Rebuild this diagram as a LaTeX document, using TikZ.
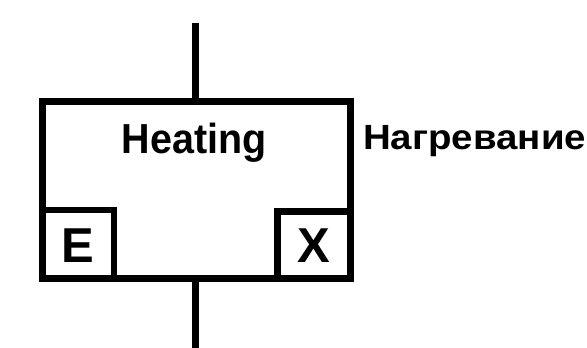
\documentclass[tikz,border=0pt]{standalone}
\usepackage{fontspec}
\setmainfont{Liberation Sans}
\begin{document}
\begin{tikzpicture}[x=1pt,y=1pt,
  outerbox/.style={draw=black,line width=7pt,inner sep=0pt,outer sep=0pt,rectangle},
  cornerbox/.style={draw=black,line width=6.5pt,inner sep=0pt,outer sep=0pt,rectangle},
  conn/.style={draw=black,line width=7.5pt},
  boxlabel/.style={inner sep=0pt,font=\fontsize{49}{55}\selectfont\bfseries},
  title/.style={inner sep=0pt,font=\fontsize{42}{48}\selectfont\bfseries,xscale=0.94},
  sidelabel/.style={inner sep=0pt,font=\fontsize{35}{40}\selectfont\bfseries}]
\clip (0,0) rectangle (587,348);
\fill[white] (0,0) rectangle (587,348);
\node[outerbox,minimum width=307.2pt,minimum height=177pt] (heat) at (196.4,157.5) {};
\node[cornerbox,minimum width=71.2pt,minimum height=69pt,anchor=south west] (ebox) at (heat.south west) {};
\node[cornerbox,minimum width=72.5pt,minimum height=67.5pt,anchor=south east] (xbox) at (heat.south east) {};
\node[boxlabel,anchor=base] (elab) at (78.3,85) {E};
\node[boxlabel,anchor=base] (xlab) at (314,85) {X};
\node[title,anchor=base] (htitle) at (194.2,194.7) {Heating};
\node[sidelabel,anchor=base west] (ru) at (363,198) {\resizebox{223pt}{\height}{Нагревание}};
\coordinate (topend) at (195.5,325.3);
\coordinate (botend) at (195.5,-5);
\draw[conn] (topend) -- (topend |- heat.north);
\draw[conn] (topend |- heat.south) -- (botend);
\end{tikzpicture}
\end{document}
